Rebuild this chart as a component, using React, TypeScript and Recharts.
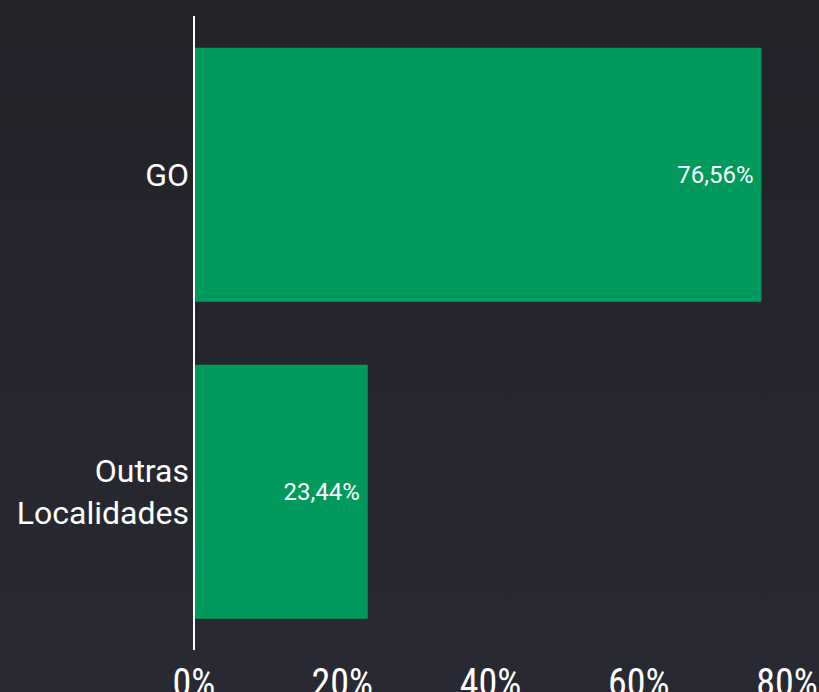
import { Bar, BarChart, LabelList, XAxis, YAxis, ReferenceLine } from 'recharts'

const categories = ['GO', 'Outras Localidades']
const shares = [76.56, 23.44]
const xTicks = [0, 20, 40, 60, 80]

const data = categories.map((label, i) => ({ label, value: shares[i] }))

const GREEN = '#009a5c'
const fmt = (v: number) => v.toFixed(2).replace('.', ',') + '%'

// eslint-disable-next-line @typescript-eslint/no-explicit-any
const CategoryTick = (props: any) => {
  const { y, payload } = props
  const words = String(payload.value).split(' ')
  const lines = words.length > 1 ? words : [payload.value]
  const lh = 42
  const start = y - ((lines.length - 1) * lh) / 2
  const right = 189
  return (
    <text
      x={right}
      y={start}
      textAnchor="end"
      dominantBaseline="central"
      style={{ fontSize: 32, fill: '#ffffff', fontFamily: 'Roboto, sans-serif' }}
    >
      {lines.map((l: string, i: number) => (
        <tspan key={i} x={right} y={start + i * lh}>
          {l}
        </tspan>
      ))}
    </text>
  )
}

// eslint-disable-next-line @typescript-eslint/no-explicit-any
const PercentTick = (props: any) => {
  const { x, payload } = props
  return (
    <text
      x={x}
      y={696}
      textAnchor="middle"
      style={{
        fontSize: 38,
        fill: '#ffffff',
        fontFamily: '"Liberation Sans Narrow", "Roboto Condensed", Roboto, sans-serif',
      }}
    >
      {payload.value}%
    </text>
  )
}

export default function App() {
  return (
    <div
      style={{
        position: 'absolute',
        left: 0,
        top: 0,
        width: 819,
        height: 692,
        background: 'linear-gradient(#222229, #292933)',
        overflow: 'hidden',
      }}
    >
      <BarChart
        width={819}
        height={692}
        data={data}
        layout="vertical"
        margin={{ top: 16, right: 32, bottom: 0, left: 0 }}
        barCategoryGap="10%"
      >
        <XAxis
          type="number"
          domain={[0, 80]}
          ticks={xTicks}
          axisLine={false}
          tickLine={false}
          height={42}
          tick={<PercentTick />}
          interval={0}
        />
        <YAxis
          type="category"
          dataKey="label"
          width={194}
          axisLine={false}
          tickLine={false}
          tick={<CategoryTick />}
        />
        <Bar dataKey="value" fill={GREEN} isAnimationActive={false}>
          <LabelList
            dataKey="value"
            // eslint-disable-next-line @typescript-eslint/no-explicit-any
            content={(p: any) => {
              const x = Number(p.x) + Number(p.width) - 8
              const y = Number(p.y) + Number(p.height) / 2
              return (
                <text
                  x={x}
                  y={y}
                  textAnchor="end"
                  dominantBaseline="central"
                  style={{ fontSize: 24, fill: '#ffffff', fontFamily: 'Roboto, sans-serif' }}
                >
                  {fmt(Number(p.value))}
                </text>
              )
            }}
          />
        </Bar>
        <ReferenceLine x={0} stroke="#ffffff" strokeWidth={2} />
      </BarChart>
    </div>
  )
}
